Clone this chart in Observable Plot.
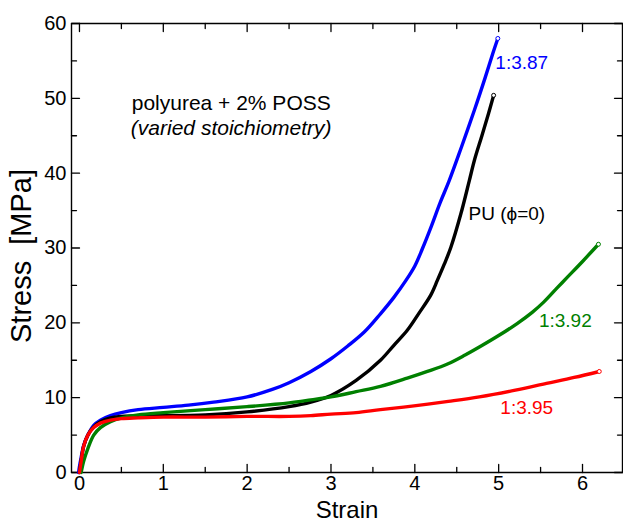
<!DOCTYPE html>
<html><head><meta charset="utf-8">
<script src="https://cdn.jsdelivr.net/npm/d3@7"></script>
<script src="https://cdn.jsdelivr.net/npm/@observablehq/plot@0.6"></script>
<style>body{margin:0;}</style>
</head><body><div id="chart"></div>
<script>
// ---- data ----
const strainBlue = [-0.01, 0.0, 0.02, 0.05, 0.1, 0.17, 0.25, 0.37, 0.5, 0.7, 1.0, 1.3, 1.6, 2.0, 2.3, 2.5, 2.76, 3.0, 3.2, 3.4, 3.59, 3.75, 3.89, 4.0, 4.09, 4.2, 4.3, 4.41, 4.55, 4.71, 4.84, 4.93, 4.99];
const stressBlue = [0, 0.8, 2.0, 3.6, 5.0, 6.3, 7.0, 7.6, 8.0, 8.4, 8.7, 9.0, 9.4, 10.1, 11.1, 12.0, 13.5, 15.2, 16.9, 18.8, 21.2, 23.4, 25.6, 27.6, 29.9, 33.0, 36.0, 39.0, 43.3, 48.4, 52.8, 56.0, 58.0];

const strainPU = [0, 0.02, 0.05, 0.1, 0.17, 0.25, 0.37, 0.5, 0.7, 1.0, 1.5, 2.0, 2.5, 2.76, 3.0, 3.3, 3.59, 3.75, 3.91, 4.05, 4.19, 4.27, 4.35, 4.43, 4.55, 4.65, 4.71, 4.8, 4.88, 4.94];
const stressPU = [0, 1.5, 3.5, 5.0, 6.1, 6.8, 7.3, 7.5, 7.6, 7.6, 7.7, 8.1, 8.8, 9.4, 10.3, 12.3, 15.0, 17.0, 19.0, 21.3, 23.7, 25.7, 27.8, 30.1, 34.6, 39.0, 41.7, 45.0, 48.0, 50.4];

const strainGreen = [0.02, 0.05, 0.1, 0.17, 0.25, 0.37, 0.5, 0.7, 1.0, 1.5, 2.0, 2.5, 2.76, 3.0, 3.3, 3.59, 3.91, 4.15, 4.39, 4.6, 4.79, 5.0, 5.22, 5.4, 5.54, 5.7, 5.82, 6.0, 6.19];
const stressGreen = [0, 1.5, 3.2, 5.0, 6.0, 6.8, 7.3, 7.7, 8.0, 8.4, 8.8, 9.3, 9.7, 10.1, 10.8, 11.5, 12.6, 13.5, 14.5, 15.7, 16.9, 18.3, 19.9, 21.4, 22.8, 24.7, 26.1, 28.2, 30.5];

const strainRed = [0.0, 0.02, 0.05, 0.1, 0.17, 0.25, 0.37, 0.5, 0.7, 1.0, 1.5, 2.0, 2.5, 2.76, 3.0, 3.3, 3.59, 3.99, 4.4, 4.77, 5.2, 5.57, 5.9, 6.2];
const stressRed = [0, 1.5, 3.5, 5.0, 6.0, 6.6, 7.0, 7.2, 7.3, 7.4, 7.4, 7.5, 7.5, 7.6, 7.8, 8.0, 8.4, 8.9, 9.5, 10.1, 11.0, 11.9, 12.7, 13.5];

const seriesNames = ["1:3.87", "PU (\u03D5=0)", "1:3.92", "1:3.95"];
const seriesColors = ["#0000ff", "#000000", "#008000", "#ff0000"];
const labelStrain = [4.96, 4.64, 5.48, 5.02];
const labelStress = [54.8, 34.6, 20.3, 8.6];

const noteTitle = "polyurea + 2% POSS";
const noteSub = "(varied stoichiometry)";
const noteStrain = 1.81;
const noteStressTitle = 49.3;
const noteStressSub = 46.0;

const xDomain = [-0.095, 6.477];
const yDomain = [0, 60];
const xTicks = [0, 1, 2, 3, 4, 5, 6];
const xMinorTicks = [0.5, 1.5, 2.5, 3.5, 4.5, 5.5];
const yTicks = [0, 10, 20, 30, 40, 50, 60];
const yMinorTicks = [5, 15, 25, 35, 45, 55];
const xLabel = "Strain";
const yLabel = "Stress  [MPa]";

// ---- build tables ----
const strains = [strainBlue, strainPU, strainGreen, strainRed];
const stresses = [stressBlue, stressPU, stressGreen, stressRed];
const rows = [];
const ends = [];
strains.forEach((xs, s) => {
  xs.forEach((x, i) => rows.push({series: s, strain: x, stress: stresses[s][i]}));
  ends.push({series: s, strain: xs[xs.length - 1], stress: stresses[s][xs.length - 1]});
});
const labels = seriesNames.map((name, s) => ({series: s, name, strain: labelStrain[s], stress: labelStress[s]}));
const col = d => seriesColors[d.series];
const ink = () => "#000000";

// layout
const W = 623, H = 522, ML = 71, MR = 1, MT = 23, MB = 50;
const frameW = W - ML - MR, frameH = H - MT - MB;
const xPerPx = (xDomain[1] - xDomain[0]) / frameW;
const yPerPx = (yDomain[1] - yDomain[0]) / frameH;

// frame outline (domain bounds) and inward tick segments, drawn as line marks
const frameRows = [
  {x: xDomain[0], y: yDomain[0]}, {x: xDomain[1], y: yDomain[0]},
  {x: xDomain[1], y: yDomain[1]}, {x: xDomain[0], y: yDomain[1]},
  {x: xDomain[0], y: yDomain[0]}
];
const tickRows = [];
let tid = 0;
const addX = (ticks, len) => ticks.forEach(v => {
  tickRows.push({id: tid, x: v, y: yDomain[0]}, {id: tid, x: v, y: yDomain[0] + len * yPerPx}); tid++;
  tickRows.push({id: tid, x: v, y: yDomain[1]}, {id: tid, x: v, y: yDomain[1] - len * yPerPx}); tid++;
});
const addY = (ticks, len) => ticks.forEach(v => {
  tickRows.push({id: tid, x: xDomain[0], y: v}, {id: tid, x: xDomain[0] + len * xPerPx, y: v}); tid++;
  tickRows.push({id: tid, x: xDomain[1], y: v}, {id: tid, x: xDomain[1] - len * xPerPx, y: v}); tid++;
});
addX(xTicks, 8); addX(xMinorTicks, 5);
addY(yTicks, 8); addY(yMinorTicks, 5);

const plot = Plot.plot({
  width: W, height: H,
  marginLeft: ML, marginRight: MR, marginTop: MT, marginBottom: MB,
  x: {domain: xDomain},
  y: {domain: yDomain},
  style: {fontFamily: '"Liberation Sans", Arial, sans-serif', fontSize: "20px", color: "black", background: "white"},
  marks: [
    // frame and ticks
    Plot.line(frameRows, {x: "x", y: "y", stroke: ink, strokeWidth: 1.4}),
    Plot.line(tickRows, {x: "x", y: "y", z: "id", stroke: ink, strokeWidth: 1.3}),
    // curves
    Plot.line(rows, {x: "strain", y: "stress", z: "series", stroke: col, strokeWidth: 3.4, curve: "catmull-rom"}),
    Plot.dot(ends, {x: "strain", y: "stress", r: 2, stroke: col, fill: "white", strokeWidth: 1}),
    // labels
    Plot.text(labels, {x: "strain", y: "stress", text: "name", fill: col, textAnchor: "start", fontSize: 19}),
    Plot.text([noteTitle], {x: () => noteStrain, y: () => noteStressTitle, text: d => d, fontSize: 21}),
    Plot.text([noteSub], {x: () => noteStrain, y: () => noteStressSub, text: d => d, fontSize: 21, fontStyle: "italic"}),
    // tick labels
    Plot.axisX(xTicks, {anchor: "bottom", tickSize: 0, tickPadding: 3, fontSize: 20, label: null}),
    Plot.axisY(yTicks, {anchor: "left", tickSize: 0, tickPadding: 5, fontSize: 20, label: null}),
    // axis titles
    Plot.text([xLabel], {frameAnchor: "bottom", dy: 38, lineAnchor: "middle", textAnchor: "middle", fontSize: 24, text: d => d}),
    Plot.text([yLabel], {frameAnchor: "left", dx: -50, dy: 8, rotate: -90, lineAnchor: "middle", textAnchor: "middle", fontSize: 29, text: d => d})
  ]
});
document.getElementById("chart").appendChild(plot);
</script>
</body></html>
